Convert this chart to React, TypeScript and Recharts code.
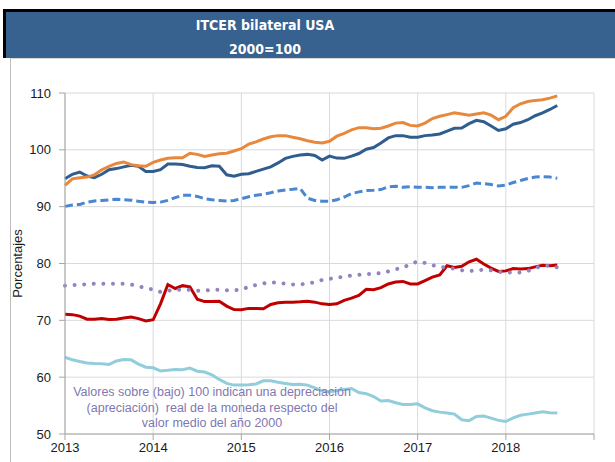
import { LineChart, Line, XAxis, YAxis, CartesianGrid, Label } from 'recharts'

// índice mensual, ene-2013 = 0 ... ago-2018 = 67
const yearTicks = [0, 12, 24, 36, 48, 60, 72]
const yearLabels = ['2013', '2014', '2015', '2016', '2017', '2018']
const yTicks = [50, 60, 70, 80, 90, 100, 110]

const serieNaranja = [
  93.75, 94.9, 95.1, 95.2, 95.6, 96.5, 97.1, 97.6, 97.85, 97.4, 97.2, 97.1,
  97.8, 98.2, 98.5, 98.6, 98.6, 99.4, 99.2, 98.85, 99.1, 99.3, 99.4, 99.8,
  100.2, 101.0, 101.4, 101.9, 102.3, 102.5, 102.5, 102.2, 101.95, 101.6, 101.35, 101.2,
  101.5, 102.4, 102.9, 103.5, 103.9, 103.9, 103.7, 103.8, 104.2, 104.7, 104.8, 104.3,
  104.2, 104.7, 105.5, 105.9, 106.2, 106.5, 106.3, 106.1, 106.3, 106.5, 106.1, 105.3,
  105.9, 107.4, 108.1, 108.5, 108.7, 108.8, 109.1, 109.5,
]
const serieAzul = [
  94.9, 95.7, 96.1, 95.4, 95.1, 95.7, 96.5, 96.7, 97.0, 97.3, 97.1, 96.2,
  96.2, 96.5, 97.5, 97.5, 97.4, 97.1, 96.9, 96.85, 97.2, 97.1, 95.6, 95.35,
  95.7, 95.8, 96.2, 96.6, 97.0, 97.7, 98.5, 98.85, 99.1, 99.2, 99.0, 98.2,
  98.9, 98.55, 98.5, 98.9, 99.35, 100.1, 100.4, 101.2, 102.1, 102.5, 102.5, 102.2,
  102.2, 102.5, 102.6, 102.8, 103.3, 103.8, 103.85, 104.6, 105.2, 104.95, 104.2, 103.4,
  103.7, 104.5, 104.8, 105.3, 106.0, 106.5, 107.1, 107.8,
]
const serieAzulTrazos = [
  90.05, 90.3, 90.4, 90.8, 91.0, 91.1, 91.2, 91.3, 91.2, 91.15, 90.95, 90.8,
  90.75, 90.8, 91.1, 91.6, 92.0, 92.0, 91.8, 91.4, 91.2, 91.1, 91.0, 91.1,
  91.4, 91.75, 92.0, 92.2, 92.45, 92.75, 92.95, 93.05, 93.2, 91.5, 91.1, 90.95,
  90.95, 91.2, 91.7, 92.3, 92.6, 92.85, 92.9, 93.0, 93.5, 93.6, 93.4, 93.5,
  93.4, 93.4, 93.35, 93.4, 93.4, 93.4, 93.4, 93.7, 94.15, 94.05, 93.9, 93.65,
  93.8, 94.25, 94.6, 94.95, 95.2, 95.3, 95.2, 95.0,
]
const serieRoja = [
  71.05, 71.0, 70.75, 70.2, 70.2, 70.3, 70.15, 70.2, 70.4, 70.6, 70.3, 69.9,
  70.1, 72.9, 76.3, 75.6, 76.1, 75.9, 73.7, 73.3, 73.3, 73.35, 72.5, 71.9,
  71.85, 72.1, 72.1, 72.05, 72.8, 73.1, 73.2, 73.2, 73.25, 73.35, 73.2, 72.9,
  72.8, 72.9, 73.5, 73.9, 74.4, 75.45, 75.4, 75.75, 76.4, 76.75, 76.85, 76.4,
  76.4, 77.0, 77.6, 78.0, 79.6, 79.3, 79.5, 80.3, 80.75, 79.9, 79.2, 78.6,
  78.7, 79.1, 79.05, 79.1, 79.4, 79.7, 79.6, 79.75,
]
const serieMorada = [
  76.1, 76.2, 76.25, 76.35, 76.45, 76.45, 76.45, 76.45, 76.45, 76.3, 76.0, 75.7,
  75.4, 75.0, 75.2, 75.4, 75.4, 75.4, 75.2, 75.2, 75.4, 75.4, 75.3, 75.3,
  75.4, 75.9, 76.2, 76.5, 76.7, 76.6, 76.45, 76.3, 76.3, 76.5, 76.7, 77.1,
  77.3, 77.5, 77.7, 77.9, 78.0, 78.15, 78.2, 78.3, 78.6, 79.0, 79.25, 79.9,
  80.35, 80.1, 79.7, 79.4, 79.25, 79.1, 78.8, 78.65, 78.8, 78.9, 78.8, 78.55,
  78.4, 78.4, 78.4, 78.7, 79.2, 79.6, 79.6, 79.3,
]
const serieCeleste = [
  63.5, 63.05, 62.75, 62.5, 62.4, 62.35, 62.25, 62.85, 63.1, 63.05, 62.3, 61.75,
  61.65, 61.1, 61.2, 61.35, 61.3, 61.6, 61.05, 60.9, 60.4, 59.6, 58.9, 58.6,
  58.6, 58.65, 58.8, 59.35, 59.35, 59.1, 58.9, 58.7, 58.75, 58.6, 58.1, 57.6,
  57.4, 57.65, 57.85, 58.0, 57.3, 57.1, 56.6, 55.8, 55.9, 55.5, 55.2, 55.2,
  55.3, 54.6, 54.1, 53.85, 53.7, 53.5, 52.5, 52.35, 53.1, 53.15, 52.8, 52.4,
  52.2, 52.85, 53.3, 53.5, 53.7, 53.9, 53.75, 53.7,
]

const nota = [
  'Valores sobre (bajo) 100 indican una depreciación',
  '(apreciación)  real de la moneda respecto del',
  'valor medio del año 2000',
]

const data = serieNaranja.map((v, i) => ({
  mes: i,
  naranja: v,
  azul: serieAzul[i],
  trazos: serieAzulTrazos[i],
  roja: serieRoja[i],
  morada: serieMorada[i],
  celeste: serieCeleste[i],
}))

const tickFont = { fontFamily: 'Liberation Sans, Arial, sans-serif', fontSize: 13, fill: '#1a1a1a' }

export default function App() {
  return (
    <div style={{ position: 'fixed', left: 0, top: 0, width: 615, height: 462, background: '#fff', overflow: 'hidden' }}>
      <div
        style={{
          position: 'absolute', left: 3, top: 9, width: 612, height: 49, boxSizing: 'border-box',
          background: '#37618f', borderTop: '3px solid #000', borderLeft: '3px solid #000',
        }}
      />
      <div
        style={{
          position: 'absolute', left: 0, top: 13, width: 530, textAlign: 'center', color: '#fff',
          fontFamily: 'DejaVu Sans Condensed, sans-serif', fontWeight: 'bold', fontSize: 14, lineHeight: '24px',
        }}
      >
        <div>ITCER bilateral USA</div>
        <div>2000=100</div>
      </div>
      <div
        style={{
          position: 'absolute', left: 10, top: 58, width: 605, height: 404,
          borderLeft: '1px solid #bdbdbd', borderTop: '1px solid #d9d9d9', boxSizing: 'border-box',
        }}
      />
      <div style={{ position: 'absolute', left: 0, top: 60 }}>
        <LineChart width={615} height={402} data={data} margin={{ top: 33, right: 21, bottom: 0, left: 20 }}>
          <CartesianGrid stroke="#d9d9d9" />
          <XAxis
            dataKey="mes"
            type="number"
            domain={[0, 72]}
            ticks={yearTicks}
            tickFormatter={(v: number) => yearLabels[v / 12] ?? ''}
            height={28}
            stroke="#a6a6a6"
            tickSize={6}
            tickMargin={3}
            tick={tickFont}
            interval={0}
          />
          <YAxis
            domain={[50, 110]}
            ticks={yTicks}
            width={45}
            stroke="#a6a6a6"
            tickSize={6}
            tickMargin={8}
            tick={tickFont}
            interval={0}
          >
            <Label
              value="Porcentajes"
              angle={-90}
              position="insideLeft"
              offset={-3}
              style={{ ...tickFont, textAnchor: 'middle' }}
            />
          </YAxis>
          <Line dataKey="celeste" stroke="#92cddc" strokeWidth={3} dot={false} isAnimationActive={false} />
          <Line dataKey="trazos" stroke="#4a86d1" strokeWidth={3} strokeDasharray="8 4" dot={false} isAnimationActive={false} />
          <Line dataKey="azul" stroke="#2f5d8e" strokeWidth={3} dot={false} isAnimationActive={false} />
          <Line dataKey="naranja" stroke="#e8883c" strokeWidth={3} dot={false} isAnimationActive={false} />
          <Line dataKey="roja" stroke="#c00000" strokeWidth={3} dot={false} isAnimationActive={false} />
          <Line
            dataKey="morada"
            stroke="#9583bf"
            strokeWidth={4}
            strokeDasharray="0.01 9.6"
            strokeLinecap="round"
            dot={false}
            isAnimationActive={false}
          />
        </LineChart>
      </div>
      <div
        style={{
          position: 'absolute', left: 62, top: 385, width: 300, textAlign: 'center', color: '#7f77b3',
          fontFamily: 'Liberation Sans, Arial, sans-serif', fontSize: 12.5, lineHeight: '15.5px',
        }}
      >
        {nota.map((t) => (
          <div key={t} style={{ whiteSpace: 'pre' }}>{t}</div>
        ))}
      </div>
    </div>
  )
}
